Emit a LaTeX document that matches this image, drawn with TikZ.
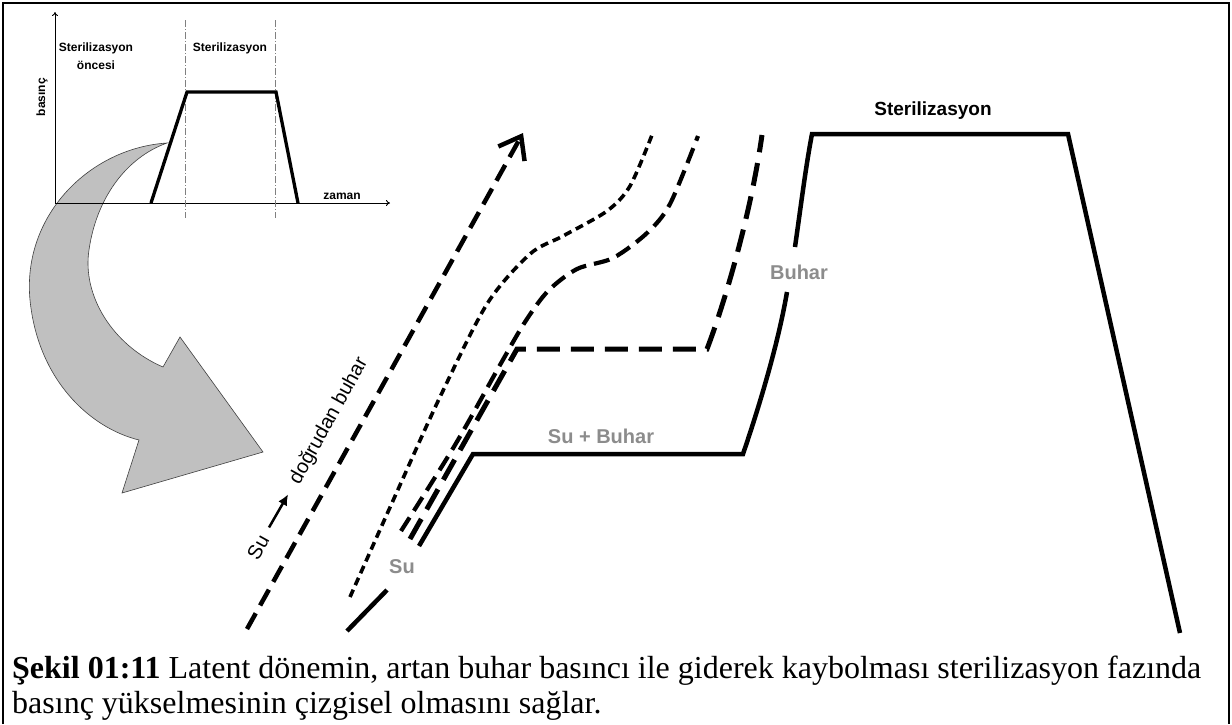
\documentclass[tikz,border=0pt]{standalone}
\usepackage{fontspec}
\setmainfont{Liberation Serif}
\newfontfamily\arialfont{Liberation Sans}
\usetikzlibrary{arrows.meta}
\definecolor{arrowgray}{RGB}{192,192,192}
\definecolor{labelgray}{RGB}{140,140,140}
\begin{document}
\begin{tikzpicture}[x=1pt,y=-1pt,
  insetlbl/.style={font=\arialfont\bfseries\fontsize{12}{14}\selectfont, inner sep=0pt},
  graylbl/.style={font=\arialfont\bfseries\fontsize{20}{24}\selectfont, text=labelgray, inner sep=0pt},
  blacklbl/.style={font=\arialfont\fontsize{20}{24}\selectfont, inner sep=0pt},
  titlelbl/.style={font=\arialfont\bfseries\fontsize{19}{23}\selectfont, inner sep=0pt},
  caption/.style={font=\fontsize{32}{37}\selectfont, inner sep=0pt, anchor=base west},
  axisline/.style={line width=0.9pt},
  phaseline/.style={gray, line width=0.7pt, dash pattern=on 7pt off 2pt on 1pt off 2pt},
  pressline/.style={line width=3.3pt, line join=miter},
  lineA/.style={line width=3.6pt, dash pattern=on 8pt off 5pt},
  lineB/.style={line width=4.2pt, dash pattern=on 16pt off 8pt},
  lineC/.style={line width=5pt, dash pattern=on 23pt off 11pt},
  lineD/.style={line width=4.5pt, line join=miter},
  steamarrow/.style={line width=4.5pt, dash pattern=on 18pt off 9pt,
     -{Straight Barb[length=20pt,width=30pt]}},
]
\useasboundingbox (0,0) rectangle (1232,724);
\fill[white] (0,0) rectangle (1232,724);
% frame
\draw[line width=2.5pt] (3,724) -- (3,3) -- (1229,3) -- (1229,724);

% big gray curved arrow
\draw[fill=arrowgray, draw=black!75, line width=0.6pt]
  (167,143) .. controls (90,148) and (22,215) .. (30,300)
  .. controls (38,380) and (90,428) .. (139,440)
  -- (122,493) -- (263,452) -- (180,337) -- (163,367)
  .. controls (112,345) and (82,295) .. (89,250)
  .. controls (96,200) and (125,158) .. (167,143) -- cycle;

% inset chart
\coordinate (o) at (55,203);
\coordinate (ytop) at (55,12);
\coordinate (xend) at (390,203);
\draw[axisline, -{To[length=4pt,width=6pt]}] (o) -- (ytop);
\draw[axisline, -{To[length=4pt,width=6pt]}] (o) -- (xend);
\draw[phaseline] (185,20) -- (185,218);
\draw[phaseline] (275,20) -- (275,218);
\draw[pressline] (151,203) -- (187,92) -- (276,92) -- (298,203);
\node[insetlbl] (pre1) at (96,48) {Sterilizasyon};
\node[insetlbl] (pre2) at (96,65) {öncesi};
\node[insetlbl] (ster) at (230,48) {Sterilizasyon};
\node[insetlbl, rotate=90] (bas) at (42,97) {basınç};
\node[insetlbl] (zam) at (342,196) {zaman};

% direct steam arrow
\coordinate (ds) at (247,629);
\coordinate (dt) at (523,133);
\draw[steamarrow] (ds) -- (dt);
\node[blacklbl, rotate=61] (su1) at (258,547) {Su};
\node[blacklbl, rotate=61] (db) at (329,421) {doğrudan buhar};
\draw[line width=2.5pt, -{Latex[length=11pt,width=10pt]}, shorten <=10pt, shorten >=13pt] (su1.east) -- (db.west);

% curves
\draw[lineA] plot[smooth] coordinates {(350,597) (396,494) (440,397) (487,304) (530,254) (563,236) (607,211) (630,186) (652,135)};
\draw[lineB] plot[smooth] coordinates {(401,531) (455,445) (500,365) (525,322) (548,291) (577,269) (613,258) (647,233) (670,204) (698,136)};
\draw[lineC] (410,539) -- (517,349) -- (707,349) .. controls (722,310) and (750,220) .. (762,135);

% solid line
\draw[lineD] (347,631) -- (387,590);
\draw[lineD] (419,546) -- (473,454) -- (743,454) .. controls (758,410) and (778,345) .. (787,292);
\draw[lineD] (795,247) .. controls (801,205) and (806,165) .. (812,134) -- (1068,134) -- (1180,633);

% labels
\node[graylbl] (su2) at (402,567) {Su};
\node[graylbl] (sb) at (601,436) {Su + Buhar};
\node[graylbl] (bu) at (799,272) {Buhar};
\node[titlelbl] (st) at (933,111) {Sterilizasyon};

% caption
\node[caption] (cap1) at (12,678) {\textbf{Şekil 01:11} Latent dönemin, artan buhar basıncı ile giderek kaybolması sterilizasyon fazında};
\node[caption] (cap2) at (12,713) {basınç yükselmesinin çizgisel olmasını sağlar.};
\end{tikzpicture}
\end{document}
